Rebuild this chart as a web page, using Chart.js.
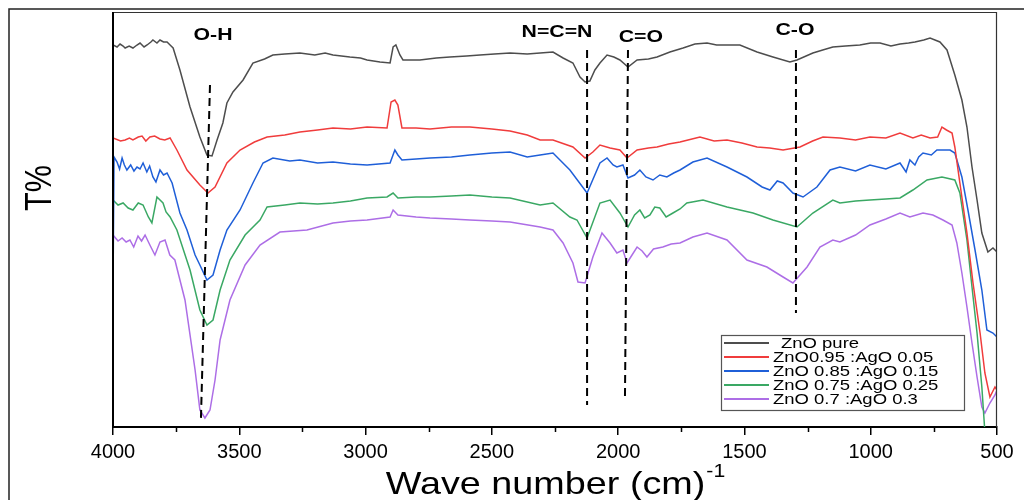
<!DOCTYPE html>
<html><head><meta charset="utf-8">
<script src="https://cdn.jsdelivr.net/npm/chart.js@4.4.1/dist/chart.umd.min.js"></script>
<style>html,body{margin:0;padding:0;background:#fff;}</style>
</head><body>
<canvas id="c" width="1024" height="500"></canvas>
<script>
// ---------- DATA ----------
const seriesLabels = ['ZnO pure', 'ZnO0.95 :AgO 0.05', 'ZnO 0.85 :AgO 0.15', 'ZnO 0.75 :AgO 0.25', 'ZnO 0.7 :AgO 0.3'];

const xPure = [4000,3984,3972,3960,3952,3936,3921,3905,3893,3877,3865,3850,3842,3826,3814,3800,3786,3774,3762,3735,3695,3656,3628,3608,3588,3565,3549,3525,3485,3446,3400,3367,3320,3260,3201,3160,3129,3062,3020,2994,2943,2903,2891,2880,2864,2852,2785,2720,2666,2600,2547,2490,2428,2360,2309,2258,2218,2179,2151,2131,2112,2092,2072,2044,2017,1993,1961,1925,1880,1846,1795,1743,1696,1648,1610,1577,1518,1450,1387,1320,1292,1229,1190,1150,1100,1043,1000,963,920,884,850,825,790,765,726,698,667,639,619,599,579,560,536,516,500];
const yPure = [382,380,383,381,379,381,379,382,384,380,382,385,387,384,387,385,385,382,379,357,320,290,272,271,287,304,324,335,347,364,368,372,373,374,372,374,372,370,369,367,365,364,380,382,372,367,367,369,370,371,372,373,374,373,374,375,369,364,350,345,346,357,364,372,370,367,360,367,368,370,375,379,383,384,382,382,382,375,370,365,367,374,377,380,381,382,384,384,381,383,384,385,387,389,385,377,352,327,300,260,227,194,175,179,175];

const x095 = [4000,3970,3952,3935,3921,3900,3885,3870,3854,3835,3814,3795,3774,3747,3707,3656,3624,3596,3549,3497,3440,3390,3320,3260,3190,3129,3060,2994,2915,2899,2884,2872,2856,2800,2745,2660,2587,2500,2428,2360,2309,2258,2179,2131,2100,2072,2032,1993,1965,1925,1880,1846,1800,1755,1676,1620,1569,1510,1450,1400,1347,1280,1230,1189,1122,1060,1003,940,884,833,800,765,735,718,700,678,667,647,619,595,567,548,528,508,500];
const y095 = [289,286,287,289,287,290,291,286,290,291,288,287,289,277,257,242,234,240,264,277,285,290,292,295,297,299,298,300,299,325,327,322,299,299,298,300,300,298,296,292,287,287,280,269,275,282,279,277,269,277,279,280,283,285,290,286,287,284,280,279,277,280,286,290,289,287,290,289,294,289,292,289,290,300,297,294,280,244,194,144,94,54,30,40,37];

const x085 = [4000,3996,3984,3974,3964,3955,3945,3930,3917,3905,3893,3881,3866,3855,3842,3830,3814,3800,3786,3766,3735,3707,3675,3656,3628,3604,3576,3549,3497,3446,3406,3367,3300,3260,3190,3129,3060,2994,2903,2884,2872,2856,2800,2745,2660,2587,2500,2428,2360,2309,2258,2191,2123,2072,2044,2020,2005,1981,1961,1935,1914,1890,1862,1835,1807,1780,1755,1704,1648,1569,1490,1430,1399,1370,1347,1308,1268,1213,1161,1122,1060,1003,940,884,860,845,825,810,793,760,738,686,667,639,615,587,560,540,516,500];
const y085 = [137,270,265,258,269,262,257,262,256,260,258,264,255,261,250,245,257,252,254,244,214,197,172,162,147,152,177,197,217,244,264,269,266,267,264,265,263,262,264,277,272,267,268,269,270,272,274,275,270,272,274,257,234,264,269,262,260,262,249,252,257,250,247,252,250,254,257,265,269,260,250,240,237,246,244,234,230,240,257,260,256,262,258,264,255,267,262,270,274,272,277,277,274,250,217,177,137,97,94,90];

const x075 = [4000,3980,3960,3940,3921,3900,3881,3860,3846,3826,3802,3790,3774,3747,3695,3656,3628,3604,3576,3537,3477,3418,3390,3320,3260,3190,3129,3060,2994,2915,2891,2872,2800,2745,2660,2587,2500,2428,2309,2258,2191,2163,2123,2072,2032,1993,1961,1935,1914,1895,1874,1855,1835,1810,1783,1755,1728,1664,1569,1466,1387,1292,1229,1150,1122,1060,1003,940,884,833,777,718,667,647,619,599,579,560,544];
const y075 = [227,222,224,219,217,224,222,210,204,230,224,215,210,197,157,117,102,107,137,167,192,207,220,222,224,223,224,226,229,230,234,229,230,230,231,232,230,229,222,224,210,207,189,224,227,214,200,212,217,209,212,220,219,210,214,218,224,227,220,214,207,200,214,227,224,226,227,228,229,237,247,250,247,234,187,140,94,40,-20];

const x07 = [4000,3980,3964,3948,3933,3918,3901,3887,3873,3854,3834,3814,3794,3775,3755,3715,3675,3656,3636,3616,3596,3576,3537,3477,3418,3339,3232,3129,3060,2994,2903,2891,2872,2800,2745,2660,2587,2500,2428,2309,2258,2218,2179,2159,2131,2100,2064,2032,2005,1981,1965,1945,1925,1905,1886,1860,1823,1790,1755,1704,1648,1569,1490,1411,1347,1308,1252,1201,1150,1122,1060,1003,940,884,845,793,754,714,678,659,639,619,599,579,560,548,528,508,500];
const y07 = [192,186,189,185,187,180,191,186,192,182,172,185,187,172,167,127,57,17,9,17,47,87,127,162,182,195,197,204,206,207,210,217,212,210,209,208,207,206,205,200,197,184,164,145,144,170,194,184,174,177,164,172,180,176,170,178,180,183,184,190,194,187,167,160,150,144,160,180,187,185,192,202,208,214,210,214,212,207,202,184,154,120,84,50,20,14,24,32,37];

const xTickValues = [4000,3500,3000,2500,2000,1500,1000,500];
const xMinorTicks = [3750,3250,2750,2250,1750,1250,750];

const bandNames = ['O-H', 'N=C=N', 'C=O', 'C-O'];

// ---------- STYLE / ANNOTATION CONFIG ----------
const seriesColors = ['#4d4d4d', '#f03c3c', '#1f5fd8', '#3aa864', '#ad6ee6'];
const bandLines = [ // dashed marker lines in data coordinates
  {x1: 3616, y1: 342, x2: 3652, y2: 7},
  {x1: 2123, y1: 377, x2: 2123, y2: 22},
  {x1: 1961, y1: 377, x2: 1973, y2: 29},
  {x1: 1296, y1: 377, x2: 1296, y2: 114}
];
const bandLabelPos = [
  {x: 3604, y: 392}, {x: 2242, y: 395}, {x: 1910, y: 390}, {x: 1300, y: 397}
];
const FONT = "'Liberation Sans', Arial, sans-serif";

function pairs(xs, ys){ return xs.map((v,i)=>({x:v, y:ys[i]})); }
const allX = [xPure, x095, x085, x075, x07];
const allY = [yPure, y095, y085, y075, y07];

function stretchedText(ctx, text, x, y, font, align, sx){
  ctx.save();
  ctx.font = font;
  ctx.textBaseline = 'middle';
  const w = ctx.measureText(text).width * sx;
  let left = x;
  if (align === 'center') left = x - w/2;
  else if (align === 'right') left = x - w;
  ctx.translate(left, y);
  ctx.scale(sx, 1);
  ctx.textAlign = 'left';
  ctx.fillText(text, 0, 0);
  ctx.restore();
  return w;
}

const decorPlugin = {
  id: 'decor',
  afterDatasetsDraw(chart){
    const {ctx, chartArea: a, scales: {x, y}} = chart;
    ctx.save();
    // dashed band markers
    ctx.strokeStyle = '#000';
    ctx.lineWidth = 2;
    ctx.setLineDash([8, 5]);
    bandLines.forEach(l => {
      ctx.beginPath();
      ctx.moveTo(x.getPixelForValue(l.x1), y.getPixelForValue(l.y1));
      ctx.lineTo(x.getPixelForValue(l.x2), y.getPixelForValue(l.y2));
      ctx.stroke();
    });
    ctx.setLineDash([]);
    // band labels
    ctx.fillStyle = '#000';
    bandNames.forEach((t, i) => {
      stretchedText(ctx, t, x.getPixelForValue(bandLabelPos[i].x), y.getPixelForValue(bandLabelPos[i].y), 'bold 17px ' + FONT, 'center', 1.25);
    });
    // plot frame
    ctx.strokeStyle = '#333';
    ctx.lineWidth = 1.2;
    ctx.beginPath();
    ctx.moveTo(a.left, a.top + 0.5); ctx.lineTo(a.right, a.top + 0.5);
    ctx.moveTo(a.right - 0.5, a.top); ctx.lineTo(a.right - 0.5, a.bottom);
    ctx.stroke();
    ctx.strokeStyle = '#000';
    ctx.lineWidth = 2;
    ctx.beginPath();
    ctx.moveTo(a.left, a.top); ctx.lineTo(a.left, a.bottom);
    ctx.stroke();
    // minor ticks
    ctx.lineWidth = 1.5;
    ctx.beginPath();
    xMinorTicks.forEach(v => {
      const px = Math.round(x.getPixelForValue(v)) + 0.5;
      ctx.moveTo(px, a.bottom); ctx.lineTo(px, a.bottom + 5);
    });
    ctx.stroke();
    // legend
    const lx = 721, ly = 335, lw = 243, lh = 75;
    ctx.fillStyle = '#fff';
    ctx.fillRect(lx, ly, lw, lh);
    ctx.strokeStyle = '#555';
    ctx.lineWidth = 1.2;
    ctx.strokeRect(lx + 0.5, ly + 0.5, lw, lh);
    chart.data.datasets.forEach((ds, i) => {
      const ry = ly + 8 + i * 14;
      ctx.strokeStyle = ds.borderColor;
      ctx.lineWidth = 1.8;
      ctx.beginPath();
      ctx.moveTo(lx + 3, ry); ctx.lineTo(lx + 48, ry);
      ctx.stroke();
      ctx.fillStyle = '#000';
      stretchedText(ctx, ds.label, lx + 52 + (i === 0 ? 8 : 0), ry + 1, '14px ' + FONT, 'left', 1.32);
    });
    ctx.restore();
  },
  afterDraw(chart){
    const {ctx} = chart;
    ctx.save();
    // outer figure frame
    ctx.strokeStyle = '#222';
    ctx.lineWidth = 1.5;
    ctx.beginPath();
    ctx.moveTo(9, 520); ctx.lineTo(9, 9); ctx.lineTo(1030, 9);
    ctx.stroke();
    ctx.fillStyle = '#000';
    // y title
    ctx.save();
    ctx.translate(41, 188);
    ctx.rotate(-Math.PI/2);
    stretchedText(ctx, 'T%', 0, 0, '36px ' + FONT, 'center', 0.85);
    ctx.restore();
    // x title with superscript
    const main = 'Wave number (cm)';
    ctx.font = '32px ' + FONT;
    const sx = 1.18;
    const wMain = ctx.measureText(main).width * sx;
    ctx.font = '18px ' + FONT;
    const wSup = ctx.measureText('-1').width * sx;
    const total = wMain + wSup;
    const left = 555 - total/2;
    stretchedText(ctx, main, left, 485, '32px ' + FONT, 'left', sx);
    stretchedText(ctx, '-1', left + wMain + 1, 472, '18px ' + FONT, 'left', sx);
    ctx.restore();
  }
};

new Chart(document.getElementById('c').getContext('2d'), {
  type: 'line',
  data: {
    datasets: seriesLabels.map((lab, i) => ({
      label: lab,
      data: pairs(allX[i], allY[i]),
      borderColor: seriesColors[i],
      backgroundColor: seriesColors[i],
      borderWidth: 1.5,
      pointRadius: 0,
      tension: 0,
      fill: false
    }))
  },
  options: {
    responsive: false,
    animation: false,
    events: [],
    layout: {padding: {left: 113, right: 27, top: 12, bottom: 0}},
    plugins: {legend: {display: false}, tooltip: {enabled: false}, title: {display: false}},
    scales: {
      x: {
        type: 'linear', reverse: true, min: 500, max: 4000,
        afterBuildTicks: s => { s.ticks = xTickValues.map(v => ({value: v})); },
        afterFit: s => { s.height = 73; },
        ticks: {font: {family: FONT, size: 20}, color: '#000', padding: 5, maxRotation: 0, autoSkip: false,
                callback: v => String(v)},
        grid: {drawOnChartArea: false, drawTicks: true, tickLength: 8, color: '#000', lineWidth: 1.5},
        border: {display: true, color: '#000', width: 2}
      },
      y: {display: false, min: 0, max: 415}
    }
  },
  plugins: [decorPlugin]
});
</script>
</body></html>
